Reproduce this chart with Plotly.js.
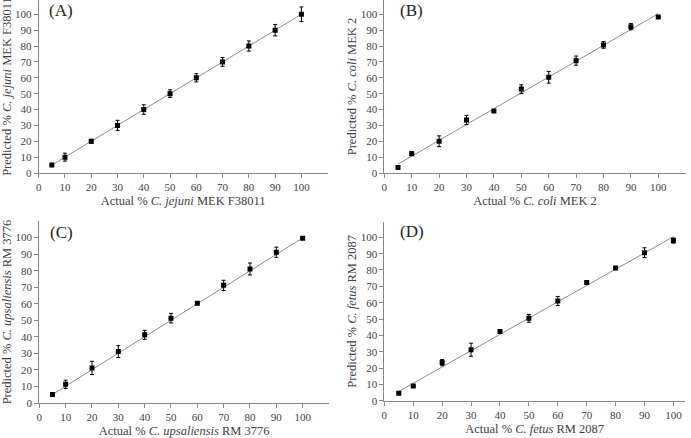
<!DOCTYPE html>
<html>
<head>
<meta charset="utf-8">
<script src="https://cdn.plot.ly/plotly-3.0.1.min.js"></script>
<style>html,body{margin:0;padding:0;background:#fff;}#chart{width:691px;height:438px;}</style>
</head>
<body>
<div id="chart"></div>
<script>
// Data
const actual = [5, 10, 20, 30, 40, 50, 60, 70, 80, 90, 100];

const predA = [5.0, 10.0, 20.0, 30.0, 40.0, 50.0, 60.0, 70.0, 80.0, 90.0, 100.0];
const errA  = [0.4, 2.5, 1.2, 3.2, 3.0, 2.4, 2.6, 2.8, 3.2, 3.6, 4.6];
const trendAx = [5, 100];
const trendAy = [5.0, 100.0];

const predB = [3.4, 12.2, 20.0, 33.4, 39.1, 52.9, 60.3, 70.8, 80.7, 92.2, 98.3];
const errB  = [0.8, 1.2, 3.4, 2.9, 0.6, 2.7, 3.7, 2.9, 2.1, 2.0, 0.6];
const trendBx = [5, 100];
const trendBy = [5.6, 100.4];

const predC = [5.1, 11.3, 21.2, 31.1, 41.2, 51.3, 60.3, 71.1, 81.0, 91.1, 99.6];
const errC  = [0.3, 2.5, 4.0, 3.6, 2.7, 2.9, 0.5, 3.1, 3.6, 3.1, 0.4];
const trendCx = [5, 100];
const trendCy = [5.2, 99.8];

const predD = [4.5, 9.0, 23.3, 31.2, 42.4, 50.4, 61.0, 72.4, 81.2, 90.6, 98.0];
const errD  = [0.4, 0.6, 1.9, 4.0, 0.6, 2.4, 2.8, 0.8, 1.0, 3.0, 1.6];
const trendDx = [5, 100];
const trendDy = [5.7, 100.4];

const tickVals = [0, 10, 20, 30, 40, 50, 60, 70, 80, 90, 100];
const panelLabels = ['(A)', '(B)', '(C)', '(D)'];
const xTitles = [
  'Actual % <i>C. jejuni</i> MEK F38011',
  'Actual % <i>C. coli</i> MEK 2',
  'Actual % <i>C. upsaliensis</i> RM 3776',
  'Actual % <i>C. fetus</i> RM 2087'
];
const yTitles = [
  'Predicted % <i>C. jejuni</i> MEK F38011',
  'Predicted % <i>C. coli</i> MEK 2',
  'Predicted % <i>C. upsaliensis</i> RM 3776',
  'Predicted % <i>C. fetus</i> RM 2087'
];

const FONT = '"Liberation Serif", "Times New Roman", serif';
const TXT = '#404040';
const AX = '#868686';

const sets = [
  {y: predA, e: errA, tx: trendAx, ty: trendAy},
  {y: predB, e: errB, tx: trendBx, ty: trendBy},
  {y: predC, e: errC, tx: trendCx, ty: trendCy},
  {y: predD, e: errD, tx: trendDx, ty: trendDy}
];

const traces = [];
sets.forEach((s, i) => {
  const xa = i === 0 ? 'x' : 'x' + (i + 1);
  const ya = i === 0 ? 'y' : 'y' + (i + 1);
  traces.push({
    type: 'scatter', mode: 'lines', x: s.tx, y: s.ty, xaxis: xa, yaxis: ya,
    line: {color: '#8c8c8c', width: 1}, hoverinfo: 'skip', showlegend: false
  });
  traces.push({
    type: 'scatter', mode: 'markers', x: actual, y: s.y, xaxis: xa, yaxis: ya,
    marker: {symbol: 'square', size: 5, color: '#000'},
    error_y: {type: 'data', array: s.e, visible: true, color: '#000', thickness: 1, width: 2},
    showlegend: false
  });
});

function xaxisDef(domain, range, title, anchor) {
  return {
    domain: domain, range: range, anchor: anchor, showgrid: false, zeroline: false,
    showline: true, linecolor: AX, linewidth: 1,
    ticks: 'outside', ticklen: 4, tickcolor: AX, tickwidth: 1,
    tickmode: 'array', tickvals: tickVals,
    tickfont: {family: FONT, size: 11, color: TXT},
    title: {text: title, font: {family: FONT, size: 12.5, color: TXT}, standoff: 4},
    automargin: false, fixedrange: true
  };
}
function yaxisDef(domain, range, title, anchor) {
  return {
    domain: domain, range: range, anchor: anchor, showgrid: false, zeroline: false,
    showline: true, linecolor: AX, linewidth: 1,
    ticks: 'outside', ticklen: 4, tickcolor: AX, tickwidth: 1,
    tickmode: 'array', tickvals: tickVals,
    tickfont: {family: FONT, size: 11, color: TXT},
    title: {text: title, font: {family: FONT, size: 12.5, color: TXT}, standoff: 1},
    automargin: false, fixedrange: true
  };
}

const layout = {
  width: 691, height: 438, autosize: false,
  margin: {l: 0, r: 0, t: 0, b: 0},
  paper_bgcolor: '#fff', plot_bgcolor: 'rgba(0,0,0,0)',
  showlegend: false,
  xaxis:  xaxisDef([0.0560, 0.4742], [0, 110], xTitles[0], 'y'),
  yaxis:  yaxisDef([0.6050, 1.0], [0, 109], yTitles[0], 'x'),
  xaxis2: xaxisDef([0.5562, 0.9923], [0, 110], xTitles[1], 'y2'),
  yaxis2: yaxisDef([0.6050, 1.0], [0, 109], yTitles[1], 'x2'),
  xaxis3: xaxisDef([0.0569, 0.4761], [0, 110], xTitles[2], 'y3'),
  yaxis3: yaxisDef([0.0799, 0.4954], [0, 110], yTitles[2], 'x3'),
  xaxis4: xaxisDef([0.5562, 0.9913], [0, 104], xTitles[3], 'y4'),
  yaxis4: yaxisDef([0.0852, 0.4932], [0, 109.4], yTitles[3], 'x4'),
  annotations: [
    {text: panelLabels[0], x: 0.0883, y: 1.0},
    {text: panelLabels[1], x: 0.5958, y: 1.0},
    {text: panelLabels[2], x: 0.0897, y: 0.4932},
    {text: panelLabels[3], x: 0.5958, y: 0.4954}
  ].map(a => Object.assign(a, {
    xref: 'paper', yref: 'paper', xanchor: 'center', yanchor: 'top',
    showarrow: false, borderpad: 0, font: {family: FONT, size: 17, color: '#222'}
  }))
};

Plotly.newPlot('chart', traces, layout, {staticPlot: true, displayModeBar: false});
</script>
</body>
</html>
